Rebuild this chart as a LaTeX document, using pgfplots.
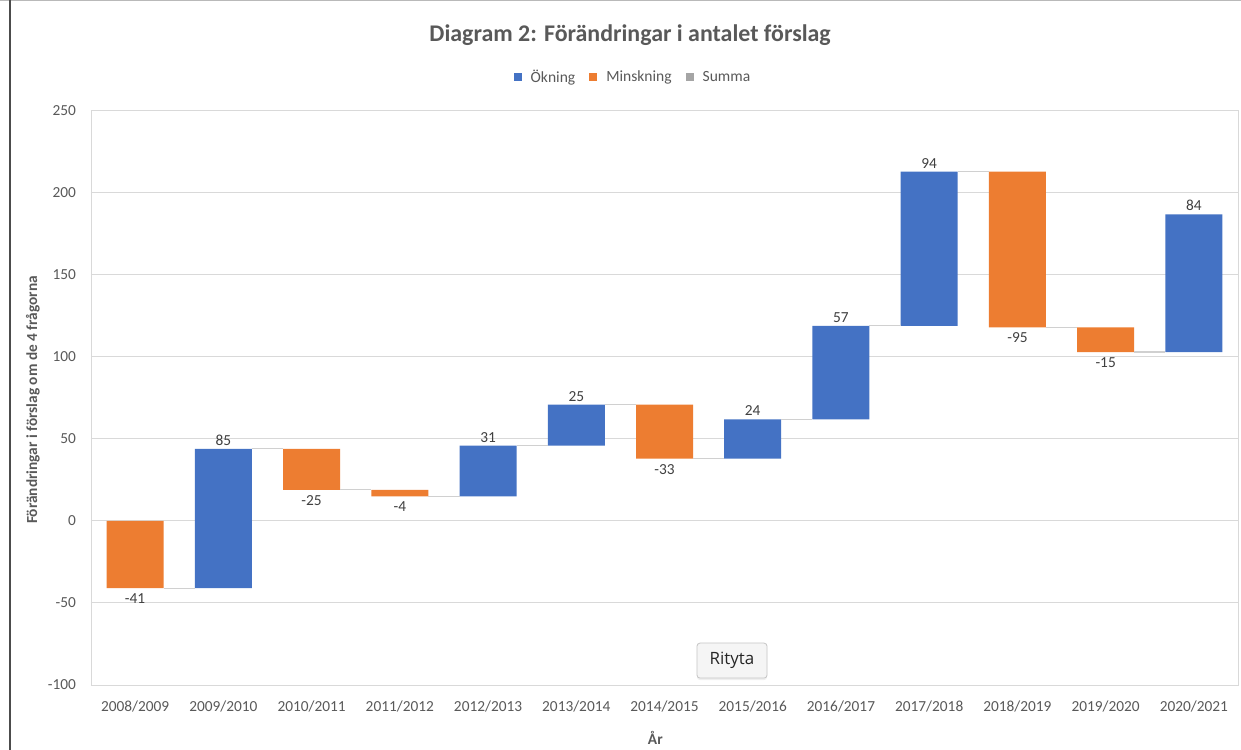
\documentclass[border=0pt]{standalone}
\usepackage{pgfplots}
\pgfplotsset{compat=1.18}
\usepackage{pgfplotstable}
\usepackage{fontspec}
\setmainfont{Carlito}
\newfontfamily\tipfont{Open Sans}
\usetikzlibrary{shadows}
\definecolor{cblue}{HTML}{4472C4}
\definecolor{corange}{HTML}{ED7D31}
\definecolor{cgray}{HTML}{A5A5A5}
\definecolor{ctext}{HTML}{595959}
\definecolor{cgrid}{HTML}{D9D9D9}
\definecolor{clabel}{HTML}{404040}
\definecolor{cconn}{HTML}{D0D0D0}

% waterfall: start level, increase, decrease
\pgfplotstableread{
x base inc dec
0 0 0 -41
1 -41 85 0
2 44 0 -25
3 19 0 -4
4 15 31 0
5 46 25 0
6 71 0 -33
7 38 24 0
8 62 57 0
9 119 94 0
10 213 0 -95
11 118 0 -15
12 103 84 0
}\wf

\begin{document}
\begin{tikzpicture}
\useasboundingbox (0,0) rectangle (620.5bp,375bp);
\fill[white] (0,0) rectangle (620.5bp,375bp);
\draw[gray!55, line width=0.6bp] (0,374.7bp) -- (620.5bp,374.7bp);
\draw[black!70, line width=1.2bp] (5bp,0) -- (5bp,375bp);

\begin{axis}[
  at={(45.5bp,32.5bp)}, anchor=south west,
  scale only axis, width=573.5bp, height=287bp,
  xmin=-0.5, xmax=12.5, ymin=-100, ymax=250,
  ytick={-100,-50,0,50,100,150,200,250},
  xtick={0,...,12},
  xticklabels={2008/2009,2009/2010,2010/2011,2011/2012,2012/2013,2013/2014,2014/2015,2015/2016,2016/2017,2017/2018,2018/2019,2019/2020,2020/2021},
  ybar stacked, stack negative=on previous, bar width=28.5bp,
  ymajorgrids, grid style={cgrid, line width=0.5bp},
  axis line style={cgrid, line width=0.5bp},
  major tick length=0pt,
  tick label style={font=\fontsize{7.7}{9}\selectfont, text=ctext},
  yticklabel style={xshift=-4bp},
  xticklabel style={yshift=-4.5bp},
  /pgf/number format/assume math mode=true,
  title={Diagram 2: Förändringar i antalet förslag},
  title style={at={(0.47,1.112)}, anchor=center, font=\fontsize{12}{14}\selectfont\bfseries, text=ctext},
  xlabel={År},
  xlabel style={at={(0.492,-0.0923)}, anchor=center, font=\fontsize{7.7}{9}\selectfont\bfseries, text=ctext},
  ylabel={Förändringar i förslag om de 4 frågorna},
  ylabel style={at={(-0.0506,0.4965)}, anchor=center, font=\fontsize{7.7}{9}\selectfont\bfseries, text=ctext},
]
\addplot[fill=none, draw=none] table[x=x, y=base]{\wf};
\addplot[fill=cblue, draw=none] table[x=x, y=inc]{\wf};
\addplot[fill=corange, draw=none] table[x=x, y=dec]{\wf};
\end{axis}

\begin{axis}[
  at={(45.5bp,32.5bp)}, anchor=south west,
  scale only axis, width=573.5bp, height=287bp,
  xmin=-0.5, xmax=12.5, ymin=-100, ymax=250,
  hide axis,
  legend style={at={(0.473,1.058)}, anchor=center, draw=none, fill=none,
    font=\fontsize{7.8}{9}\selectfont, text=ctext, legend columns=-1,
    /tikz/every even column/.append style={column sep=5.4bp},
    nodes={inner sep=1.6bp}},
  legend image code/.code={\fill[#1] (0bp,-1.8bp) rectangle (4bp,2.2bp); \path (6.9bp,0bp);},
]
\addlegendimage{fill=cblue, draw=none}
\addlegendentry{Ökning}
\addlegendimage{fill=corange, draw=none}
\addlegendentry{Minskning}
\addlegendimage{fill=cgray, draw=none}
\addlegendentry{Summa}

% connectors between bars
\addplot[forget plot, cconn, line width=0.6bp, unbounded coords=jump, mark=none] coordinates {
 (0.323,-41) (0.677,-41) (0.5,nan)
 (1.323,44) (1.677,44) (1.5,nan)
 (2.323,19) (2.677,19) (2.5,nan)
 (3.323,15) (3.677,15) (3.5,nan)
 (4.323,46) (4.677,46) (4.5,nan)
 (5.323,71) (5.677,71) (5.5,nan)
 (6.323,38) (6.677,38) (6.5,nan)
 (7.323,62) (7.677,62) (7.5,nan)
 (8.323,119) (8.677,119) (8.5,nan)
 (9.323,213) (9.677,213) (9.5,nan)
 (10.323,118) (10.677,118) (10.5,nan)
 (11.323,103) (11.677,103)
};

% labels above increases
\addplot[forget plot, draw=none, mark=none, nodes near coords, point meta=explicit symbolic,
  nodes near coords align={above},
  every node near coord/.append style={font=\fontsize{7.7}{9}\selectfont, text=clabel, inner sep=1.5bp}]
 coordinates {(1,44)[85] (4,46)[31] (5,71)[25] (7,62)[24] (8,119)[57] (9,213)[94] (12,187)[84]};

% labels below decreases
\addplot[forget plot, draw=none, mark=none, nodes near coords, point meta=explicit symbolic,
  nodes near coords align={below},
  every node near coord/.append style={font=\fontsize{7.7}{9}\selectfont, text=clabel, inner sep=2.5bp}]
 coordinates {(0,-41)[-41] (2,19)[-25] (3,15)[-4] (6,38)[-33] (10,118)[-95] (11,103)[-15]};
\end{axis}

\node[draw=gray!45, fill=gray!8, rounded corners=1.5bp, line width=0.4bp,
  drop shadow={opacity=0.12, shadow xshift=0bp, shadow yshift=-1bp},
  minimum width=35bp, minimum height=17.5bp, inner sep=0pt,
  font=\tipfont\fontsize{8.5}{10}\selectfont, text=black!85]
  at (366bp,44.7bp) {Rityta};
\end{tikzpicture}
\end{document}
